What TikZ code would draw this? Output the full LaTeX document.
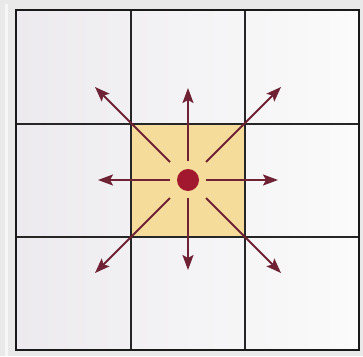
\documentclass[tikz,border=0pt]{standalone}
\usetikzlibrary{arrows.meta}
\definecolor{frameG}{HTML}{E9E9E9}
\definecolor{bgL}{HTML}{ECEAEE}
\definecolor{bgR}{HTML}{FBFBFB}
\definecolor{gold}{HTML}{F5DC9A}
\definecolor{arr}{HTML}{6E2233}
\definecolor{dotc}{HTML}{A2182E}
\tikzset{
  gridline/.style={line width=1.3pt, black!85},
  ray/.style={line width=1.8pt, arr, -{Stealth[length=15pt,width=11pt,inset=3pt]}},
}
\begin{document}
\begin{tikzpicture}[x=1pt,y=-1pt]
\useasboundingbox (0,0) rectangle (363,356);
\fill[frameG] (0,0) rectangle (363,356);
\fill[white!60!frameG] (5,4) rectangle (8,356);
\shade[left color=bgL, right color=bgR] (16,10) rectangle (359,350);
\fill[gold] (131,124) rectangle (245,237);
\draw[gridline] (131,10) -- (131,350);
\draw[gridline] (245,10) -- (245,350);
\draw[gridline] (16,124) -- (359,124);
\draw[gridline] (16,237) -- (359,237);
\draw[line width=1.8pt, black!90] (16,10) rectangle (359,350);
\coordinate (c) at (188,180);
\node[circle, fill=dotc, minimum size=22pt, inner sep=0pt] (dot) at (c) {};
\coordinate (sE) at (206,180); \coordinate (tE) at (278,180);
\coordinate (sW) at (170,180); \coordinate (tW) at (98,180);
\coordinate (sN) at (188,161); \coordinate (tN) at (188,88);
\coordinate (sS) at (188,198); \coordinate (tS) at (188,270);
\coordinate (sNW) at (170,162); \coordinate (tNW) at (95,87);
\coordinate (sNE) at (206,162); \coordinate (tNE) at (281,87);
\coordinate (sSW) at (170,198); \coordinate (tSW) at (95,273);
\coordinate (sSE) at (206,198); \coordinate (tSE) at (281,273);
\foreach \d in {E,W,N,S,NW,NE,SW,SE}{\draw[ray] (s\d) -- (t\d);}
\end{tikzpicture}
\end{document}
